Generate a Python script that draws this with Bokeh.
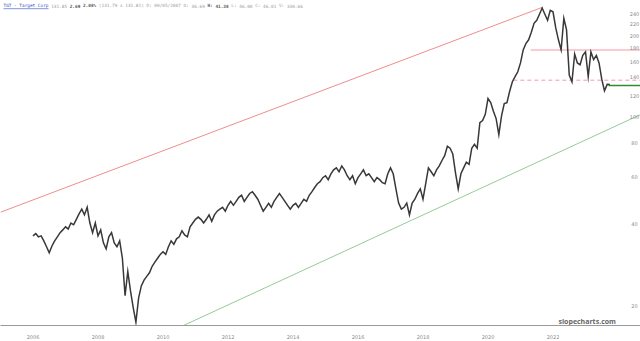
import math
from bokeh.plotting import figure
from bokeh.models import Range1d, FixedTicker
from bokeh.core.properties import value
from bokeh.embed import file_html
from bokeh.resources import INLINE

# ---------------- data ----------------
start_year = 2006.0          # first monthly close, Jan 2006
prices = [
    # 2006
    36.3, 37.0, 36.0, 36.3, 34.8, 33.1, 31.4, 33.3, 34.8, 36.0, 37.3, 38.2,
    # 2007
    39.2, 38.5, 40.5, 39.9, 41.8, 43.8, 45.6, 43.4, 46.3, 40.5, 37.3, 40.5,
    # 2008
    36.3, 38.2, 34.2, 32.5, 36.0, 37.3, 34.2, 33.1, 34.8, 30.0, 21.8, 26.8,
    # 2009
    22.7, 19.7, 17.4, 21.4, 23.7, 24.9, 25.7, 26.5, 28.0, 29.0, 30.0, 31.0,
    # 2010
    31.7, 31.0, 33.1, 34.8, 33.8, 35.4, 36.0, 37.9, 36.6, 36.0, 39.2, 40.5,
    # 2011
    41.8, 42.6, 41.8, 40.5, 41.8, 43.4, 41.1, 43.4, 44.8, 45.6, 46.3, 44.8,
    # 2012
    47.1, 48.7, 47.1, 48.7, 50.4, 51.3, 48.7, 50.4, 52.1, 52.9, 51.3, 49.6,
    # 2013
    47.1, 44.8, 46.3, 47.9, 46.3, 48.7, 50.4, 52.1, 50.4, 48.7, 47.1, 45.6,
    # 2014
    47.1, 47.9, 46.3, 47.9, 49.6, 48.7, 51.3, 52.9, 54.8, 56.6, 57.6, 59.6,
    # 2015
    60.6, 58.6, 61.6, 63.7, 64.8, 62.7, 65.9, 63.7, 60.6, 58.6, 60.6, 56.6,
    # 2016
    59.6, 61.6, 63.7, 60.6, 61.6, 59.6, 57.6, 59.6, 58.6, 57.1, 56.6, 61.6,
    # 2017
    64.8, 61.6, 54.2, 48.0, 45.6, 46.3, 48.0, 43.4, 48.0, 49.6, 52.1, 54.2,
    # 2018
    49.6, 56.6, 64.8, 62.7, 60.6, 63.7, 65.9, 69.0, 71.9, 77.9, 76.6, 72.9,
    # 2019
    62.1, 54.2, 61.6, 64.8, 68.0, 66.8, 76.6, 79.2, 76.6, 95.3, 97.0, 102.2,
    # 2020
    117.0, 113.0, 105.0, 98.6, 86.0, 101.0, 112.0, 113.0, 124.5, 135.0, 141.0, 147.0,
    # 2021
    158.5, 177.0, 187.0, 193.0, 206.0, 222.0, 228.0, 240.0, 253.0, 240.0, 228.0, 248.0,
    # 2022
    245.0, 214.0, 193.0, 177.0, 232.0, 210.0, 143.0, 135.0, 171.0, 158.5, 156.0, 169.0,
    # 2023
    174.0, 141.0, 174.0, 163.0, 169.0, 158.5, 138.0, 125.0, 132.0, 131.8,
]

year_ticks = [2006, 2008, 2010, 2012, 2014, 2016, 2018, 2020, 2022]
price_ticks = [240, 220, 200, 180, 160, 140, 120, 100, 80, 60, 40, 20]

# drawn studies
red_trend_x = [2005.0, 2021.68]
red_trend_y = [44.4, 254.8]
green_trend_x = [2010.63, 2024.69]
green_trend_y = [16.91, 102.0]
resistance_level = 177.0      # solid red
resistance_start = 2021.31
support_level = 136.8         # dashed red
support_start = 2020.78
last_level = 130.8            # green
last_start = 2023.71

header_items = [
    ("TGT - Target Corp", "link"),
    ("131.85", "norm"),
    ("2.69", "bold"),
    ("2.08%", "bold"),
    ("(131.79 x 131.81) D: 09/05/2007 O:", "norm"),
    ("46.69", "norm"),
    ("H:", "bold"),
    ("41.38", "bold"),
    ("L:", "norm"),
    ("46.00", "norm"),
    ("C:", "norm"),
    ("46.01", "norm"),
    ("V:", "norm"),
    ("330.66", "norm"),
]

# ---------------- figure ----------------
W, H = 640, 341
FRAME_H = 330
x0, x1 = 2005.0, 2005.0 + W / 32.5
y0, y1 = 16.91, 269.8

years = [start_year + i / 12.0 for i in range(len(prices))]


def px_x(px):
    return x0 + px * (x1 - x0) / W


def px_y(py):
    return math.exp(math.log(y1) - py / FRAME_H * (math.log(y1) - math.log(y0)))


p = figure(width=W, height=H, output_backend="svg", toolbar_location=None,
           x_range=Range1d(x0, x1), y_range=Range1d(y0, y1),
           y_axis_type="log", y_axis_location=None,
           min_border_left=0, min_border_right=0, min_border_top=0,
           min_border_bottom=H - FRAME_H)
p.outline_line_color = None
p.background_fill_color = "white"
p.border_fill_color = "white"
p.xgrid.visible = False
p.ygrid.visible = False

ax = p.xaxis[0]
ax.ticker = FixedTicker(ticks=year_ticks)
ax.major_tick_line_color = None
ax.minor_tick_line_color = None
ax.axis_line_color = "#9a9a9a"
ax.axis_line_width = 1
ax.major_label_text_font_size = "5px"
ax.major_label_text_color = "#8a8a8a"
ax.major_label_text_font = "DejaVu Sans"
ax.major_label_standoff = 3

# trendlines and levels
p.line(red_trend_x, red_trend_y, line_color="#ec8080", line_width=0.9)
p.line(green_trend_x, green_trend_y, line_color="#8cc48c", line_width=0.9)
p.line([resistance_start, x1], [resistance_level, resistance_level],
       line_color="#f29aa6", line_width=1.1)
p.line([support_start, x1], [support_level, support_level],
       line_color="#f29aa6", line_width=1.0, line_dash="4 3")
p.line([last_start, x1], [last_level, last_level],
       line_color="#2e8b2e", line_width=1.6)

# price
p.line(years, prices, line_color="#383838", line_width=1.5,
       line_join="miter")

# right-side price labels (inside the frame)
p.text(x=[px_x(634)] * len(price_ticks), y=price_ticks,
       text=[str(v) for v in price_ticks],
       text_align="center", text_baseline="middle",
       text_font=value("DejaVu Sans"), text_font_size="5px",
       text_color="#8a8a8a")

# header
fs = 4.4
cw = 0.602 * fs
hx = 3.0
for txt, kind in header_items:
    color = {"link": "#2d4fc4", "norm": "#9a9a9a", "bold": "#555555"}[kind]
    style = "bold" if kind == "bold" else "normal"
    p.text(x=[px_x(hx)], y=[px_y(5.5)], text=[txt],
           text_align="left", text_baseline="middle",
           text_font=value("DejaVu Sans Mono"), text_font_size=f"{fs}px",
           text_font_style=style, text_color=color)
    if kind == "link":
        p.line([px_x(hx), px_x(hx + len(txt) * cw)], [px_y(8.3), px_y(8.3)],
               line_color="#2d4fc4", line_width=0.6)
    hx += (len(txt) + 1) * cw

# watermark
p.text(x=[px_x(558)], y=[px_y(326)], text=["slopecharts.com"],
       text_align="left", text_baseline="middle",
       text_font=value("Open Sans"), text_font_size="7px",
       text_font_style="bold", text_color="#666666")

open("out.html", "w").write(file_html(p, INLINE))
